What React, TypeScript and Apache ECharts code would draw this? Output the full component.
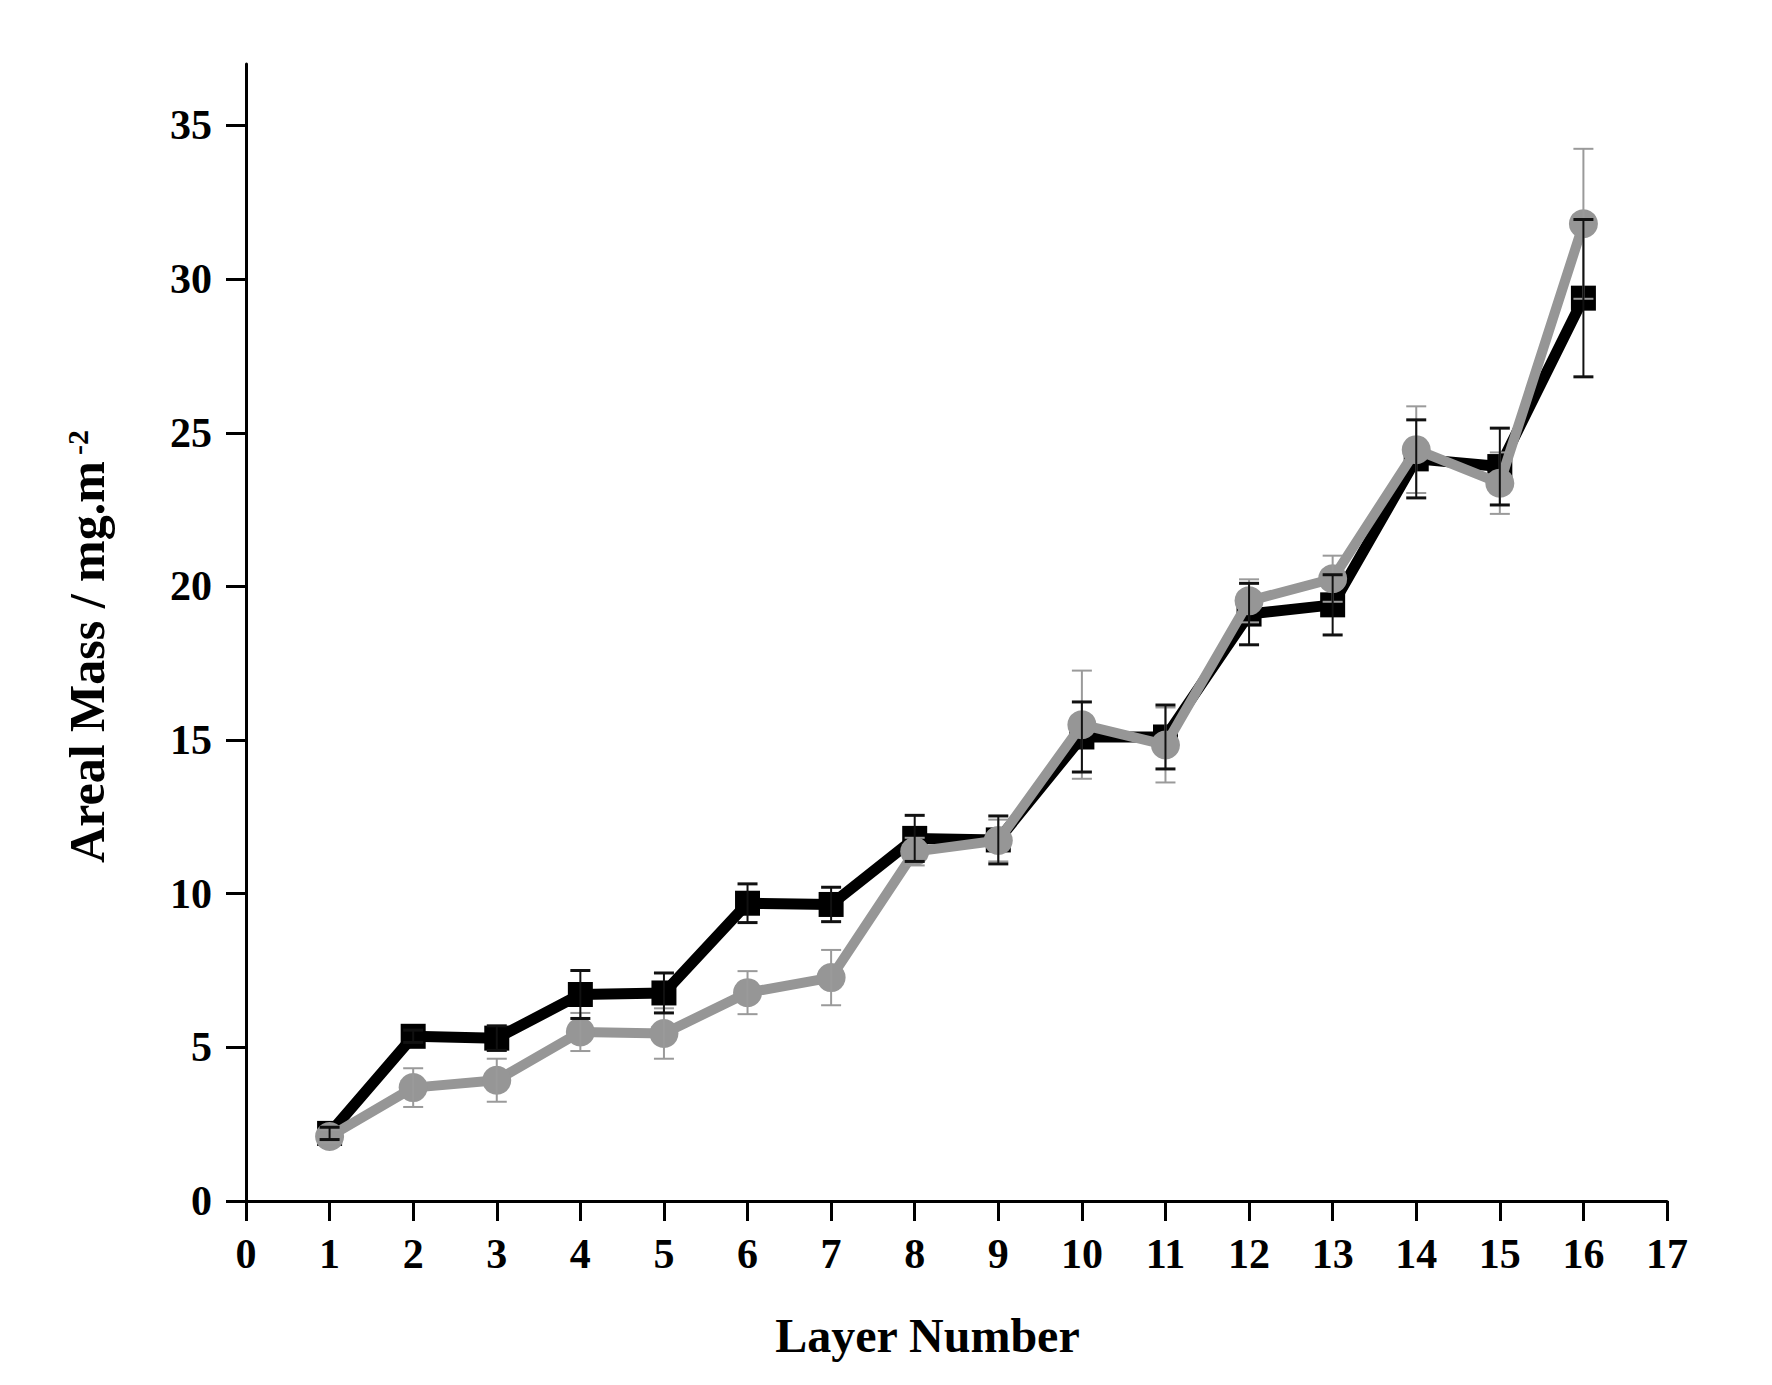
import React, { useEffect, useRef } from "react";
import * as echarts from "echarts";

const layers = [1, 2, 3, 4, 5, 6, 7, 8, 9, 10, 11, 12, 13, 14, 15, 16];
const blackMean = [2.2, 5.36, 5.3, 6.72, 6.77, 9.69, 9.65, 11.8, 11.75, 15.1, 15.1, 19.1, 19.4, 24.15, 23.9, 29.38];
const blackErr = [0.2, 0.2, 0.4, 0.78, 0.65, 0.63, 0.56, 0.75, 0.78, 1.14, 1.04, 1.0, 0.98, 1.27, 1.25, 2.56];
const grayMean = [2.1, 3.69, 3.93, 5.5, 5.45, 6.78, 7.27, 11.37, 11.73, 15.5, 14.84, 19.53, 20.25, 24.45, 23.36, 31.8];
const grayErr = [0.2, 0.63, 0.7, 0.62, 0.82, 0.7, 0.9, 0.45, 0.68, 1.76, 1.22, 0.7, 0.75, 1.41, 1.0, 2.44];
const xTicks = [0, 1, 2, 3, 4, 5, 6, 7, 8, 9, 10, 11, 12, 13, 14, 15, 16, 17];
const yTicks = [0, 5, 10, 15, 20, 25, 30, 35];

const FONT = "Liberation Serif";
const BLACK = "#000000";
const GRAY = "#969696";
const GRAY_ERR = "#9a9a9a";

function errorSeries(mean: number[], err: number[], color: string, capWidth: number, z: number) {
  return {
    type: "custom",
    coordinateSystem: "cartesian2d",
    z,
    silent: true,
    data: layers.map((x, i) => [x, mean[i] - err[i], mean[i] + err[i]]),
    renderItem: (params: any, api: any) => {
      const x = api.value(0);
      const top = api.coord([x, api.value(2)]);
      const bot = api.coord([x, api.value(1)]);
      const hw = 10;
      return {
        type: "group",
        children: [
          { type: "line", shape: { x1: top[0], y1: top[1], x2: bot[0], y2: bot[1] }, style: { stroke: color, lineWidth: 2 } },
          { type: "line", shape: { x1: top[0] - hw, y1: top[1], x2: top[0] + hw, y2: top[1] }, style: { stroke: color, lineWidth: capWidth } },
          { type: "line", shape: { x1: bot[0] - hw, y1: bot[1], x2: bot[0] + hw, y2: bot[1] }, style: { stroke: color, lineWidth: capWidth } },
        ],
      };
    },
  };
}

export default function App() {
  const ref = useRef<HTMLDivElement>(null);
  useEffect(() => {
    if (!ref.current) return;
    const chart = echarts.init(ref.current, null, { renderer: "svg" });
    const labelStyle = { fontFamily: FONT, fontWeight: "bold", fontSize: 42, color: "#000" };
    chart.setOption({
      animation: false,
      backgroundColor: "#ffffff",
      grid: { left: 246, right: 105, top: 64, bottom: 184, containLabel: false },
      xAxis: {
        type: "value",
        min: 0,
        max: 17,
        interval: 1,
        name: "Layer Number",
        nameLocation: "middle",
        nameGap: 110,
        nameTextStyle: { fontFamily: FONT, fontWeight: "bold", fontSize: 48, color: "#000", padding: [0, 58, 0, 0] },
        axisLine: { onZero: false, lineStyle: { color: "#000", width: 3 } },
        axisTick: { show: true, inside: false, length: 20, lineStyle: { color: "#000", width: 3 }, customValues: xTicks },
        axisLabel: { ...labelStyle, margin: 32, customValues: xTicks },
        splitLine: { show: false },
      },
      yAxis: {
        type: "value",
        min: 0,
        max: 37,
        interval: 5,
        name: "{a|Areal Mass / mg.m}{b|-2}",
        nameLocation: "middle",
        nameGap: 134,
        nameTextStyle: {
          padding: [0, 28, 0, 0],
          rich: {
            a: { fontFamily: FONT, fontWeight: "bold", fontSize: 50, color: "#000" },
            b: { fontFamily: FONT, fontWeight: "bold", fontSize: 30, color: "#000", verticalAlign: "top", padding: [0, 0, 0, 6] },
          },
        },
        axisLine: { onZero: false, lineStyle: { color: "#000", width: 3 } },
        axisTick: { show: true, inside: false, length: 20, lineStyle: { color: "#000", width: 3 }, customValues: yTicks },
        axisLabel: { ...labelStyle, margin: 34, customValues: yTicks },
        splitLine: { show: false },
      },
      series: [
        {
          type: "line",
          z: 2,
          data: layers.map((x, i) => [x, blackMean[i]]),
          symbol: "rect",
          symbolSize: 25,
          lineStyle: { color: BLACK, width: 11 },
          itemStyle: { color: BLACK },
        },
        {
          type: "line",
          z: 3,
          data: layers.map((x, i) => [x, grayMean[i]]),
          symbol: "circle",
          symbolSize: 29,
          lineStyle: { color: GRAY, width: 10 },
          itemStyle: { color: GRAY },
        },
        errorSeries(grayMean, grayErr, GRAY_ERR, 2, 4),
        errorSeries(blackMean, blackErr, "#111111", 3, 5),
      ],
    });
    return () => chart.dispose();
  }, []);
  return (
    <div
      ref={ref}
      style={{ position: "fixed", left: 0, top: 0, width: 1772, height: 1385, background: "#fff" }}
    />
  );
}
